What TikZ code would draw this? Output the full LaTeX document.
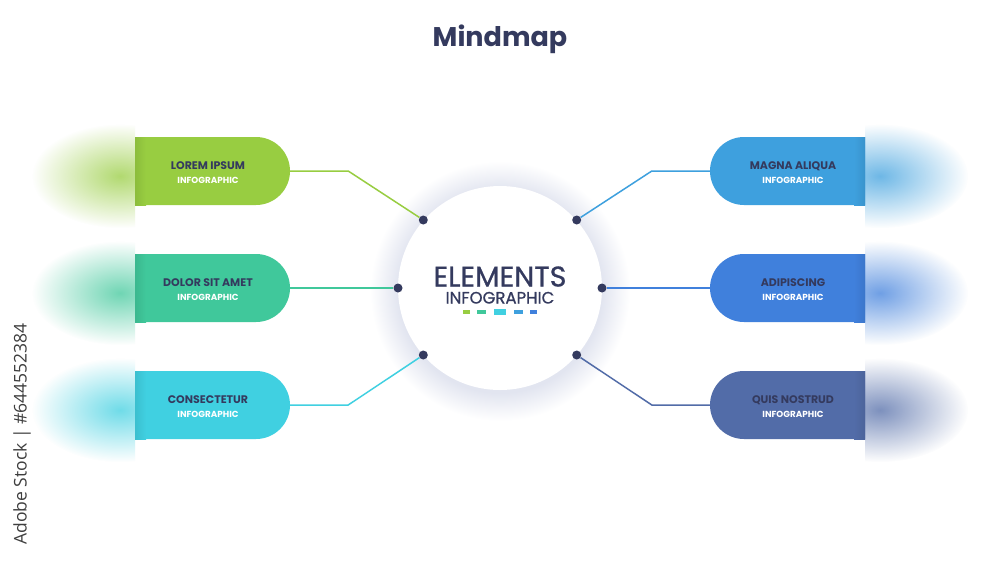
\documentclass[tikz,border=0pt]{standalone}
\usepackage{fontspec}
\setmainfont{Poppins}
\newfontfamily\popmed{Poppins}[FakeBold=0.8]
\newfontfamily\wmfont{Open Sans}
\usetikzlibrary{shapes.misc,fadings}
\definecolor{navy}{RGB}{52,58,94}
\definecolor{cA}{RGB}{152,205,65}
\definecolor{cB}{RGB}{64,200,155}
\definecolor{cC}{RGB}{64,208,225}
\definecolor{cD}{RGB}{62,160,222}
\definecolor{cE}{RGB}{64,128,220}
\definecolor{cF}{RGB}{82,108,168}
\definecolor{shc}{RGB}{226,229,240}
\definecolor{wmc}{RGB}{62,62,62}
\tikzfading[name=softglow, inner color=transparent!25, outer color=transparent!100]
\pgfdeclareradialshading{cglow}{\pgfpoint{0bp}{0bp}}{color(0bp)=(shc); color(19.6bp)=(shc); color(25bp)=(white); color(50bp)=(white)}
\begin{document}
\begin{tikzpicture}[x=1pt,y=-1pt,
  lbox/.style={rounded rectangle, rounded rectangle west arc=none, minimum width=155pt, minimum height=68pt, inner sep=0pt, draw=none},
  rbox/.style={rounded rectangle, rounded rectangle east arc=none, minimum width=155pt, minimum height=68pt, inner sep=0pt, draw=none},
  ttl/.style={font=\bfseries\fontsize{11}{13}\selectfont, text=navy, anchor=base, inner sep=0pt},
  sub/.style={font=\bfseries\fontsize{8.8}{10}\selectfont, text=white, anchor=base, inner sep=0pt},
  dot/.style={circle, fill=navy, minimum size=9pt, inner sep=0pt},
  conn/.style={line width=1.5pt}
]
\fill[white] (0,0) rectangle (1000,563);
\useasboundingbox (0,0) rectangle (1000,563);

% side glows
\begin{scope}
  \clip (0,0) rectangle (135,563);
  \fill[cA, path fading=softglow] (120,176) ellipse (88pt and 52pt);
  \fill[cB, path fading=softglow] (120,293) ellipse (88pt and 52pt);
  \fill[cC, path fading=softglow] (120,410) ellipse (88pt and 52pt);
\end{scope}
\begin{scope}
  \clip (865,0) rectangle (1000,563);
  \fill[cD, path fading=softglow] (880,176) ellipse (88pt and 52pt);
  \fill[cE, path fading=softglow] (880,293) ellipse (88pt and 52pt);
  \fill[cF, path fading=softglow] (880,410) ellipse (88pt and 52pt);
\end{scope}

% central circle
\shade[shading=cglow] (500,291) circle (130pt);
\node[circle, fill=white, minimum size=204pt, inner sep=0pt] (c) at (500,288) {};

% boxes
\node[lbox, fill=cA] (b1) at (212.5,171) {};
\node[lbox, fill=cB] (b2) at (212.5,288) {};
\node[lbox, fill=cC] (b3) at (212.5,405) {};
\node[rbox, fill=cD] (b4) at (787.5,171) {};
\node[rbox, fill=cE] (b5) at (787.5,288) {};
\node[rbox, fill=cF] (b6) at (787.5,405) {};

% edge shading on boxes
\shade[left color=cA!92!black, right color=cA] (135,137) rectangle (146,205);
\shade[left color=cB!92!black, right color=cB] (135,254) rectangle (146,322);
\shade[left color=cC!92!black, right color=cC] (135,371) rectangle (146,439);
\shade[right color=cD!92!black, left color=cD] (854,137) rectangle (865,205);
\shade[right color=cE!92!black, left color=cE] (854,254) rectangle (865,322);
\shade[right color=cF!92!black, left color=cF] (854,371) rectangle (865,439);

% box texts
\node[ttl] (t1) at (208,169.3) {LOREM IPSUM};
\node[sub] (s1) at (208,183.3) {INFOGRAPHIC};
\node[ttl] (t2) at (208,286.3) {DOLOR SIT AMET};
\node[sub] (s2) at (208,300.3) {INFOGRAPHIC};
\node[ttl] (t3) at (208,403.3) {CONSECTETUR};
\node[sub] (s3) at (208,417.3) {INFOGRAPHIC};
\node[ttl] (t4) at (793,169.3) {MAGNA ALIQUA};
\node[sub] (s4) at (793,183.3) {INFOGRAPHIC};
\node[ttl] (t5) at (793,286.3) {ADIPISCING};
\node[sub] (s5) at (793,300.3) {INFOGRAPHIC};
\node[ttl] (t6) at (793,403.3) {QUIS NOSTRUD};
\node[sub] (s6) at (793,417.3) {INFOGRAPHIC};

% dots
\node[dot] (d1) at (423.3,220) {};
\node[dot] (d2) at (398,288) {};
\node[dot] (d3) at (423.3,355) {};
\node[dot] (d4) at (576.7,220) {};
\node[dot] (d5) at (602,288) {};
\node[dot] (d6) at (576.7,355) {};

% connectors
\draw[conn, cA] (b1.east) -- ++(58,0) -- (d1);
\draw[conn, cB] (b2.east) -- (d2);
\draw[conn, cC] (b3.east) -- ++(58,0) -- (d3);
\draw[conn, cD] (b4.west) -- ++(-58,0) -- (d4);
\draw[conn, cE] (b5.west) -- (d5);
\draw[conn, cF] (b6.west) -- ++(-58,0) -- (d6);

% centre texts
\node[anchor=base, inner sep=0pt, font=\popmed\fontsize{28.5}{29}\selectfont, text=navy] (el) at (500,286.5) {ELEMENTS};
\node[anchor=base, inner sep=0pt, font=\popmed\fontsize{16.5}{17}\selectfont, text=navy] (ei) at (500,303.5) {INFOGRAPHIC};
\fill[cA] (463,310) rectangle (470,313.5);
\fill[cB] (477,310) rectangle (486,313.5);
\fill[cC] (493.7,308.5) rectangle (506,314.5);
\fill[cD] (514,310) rectangle (523.3,313.5);
\fill[cE] (530,310) rectangle (536.7,313.5);

% title
\node[anchor=base, inner sep=0pt, font=\bfseries\fontsize{27}{30}\selectfont, text=navy] (title) at (500,46) {Mindmap};

% watermark
\node[rotate=90, inner sep=0pt, font=\wmfont\fontsize{17.5}{19}\selectfont, text=wmc] (wm) at (22,434) {Adobe Stock | \#644552384};
\end{tikzpicture}
\end{document}
